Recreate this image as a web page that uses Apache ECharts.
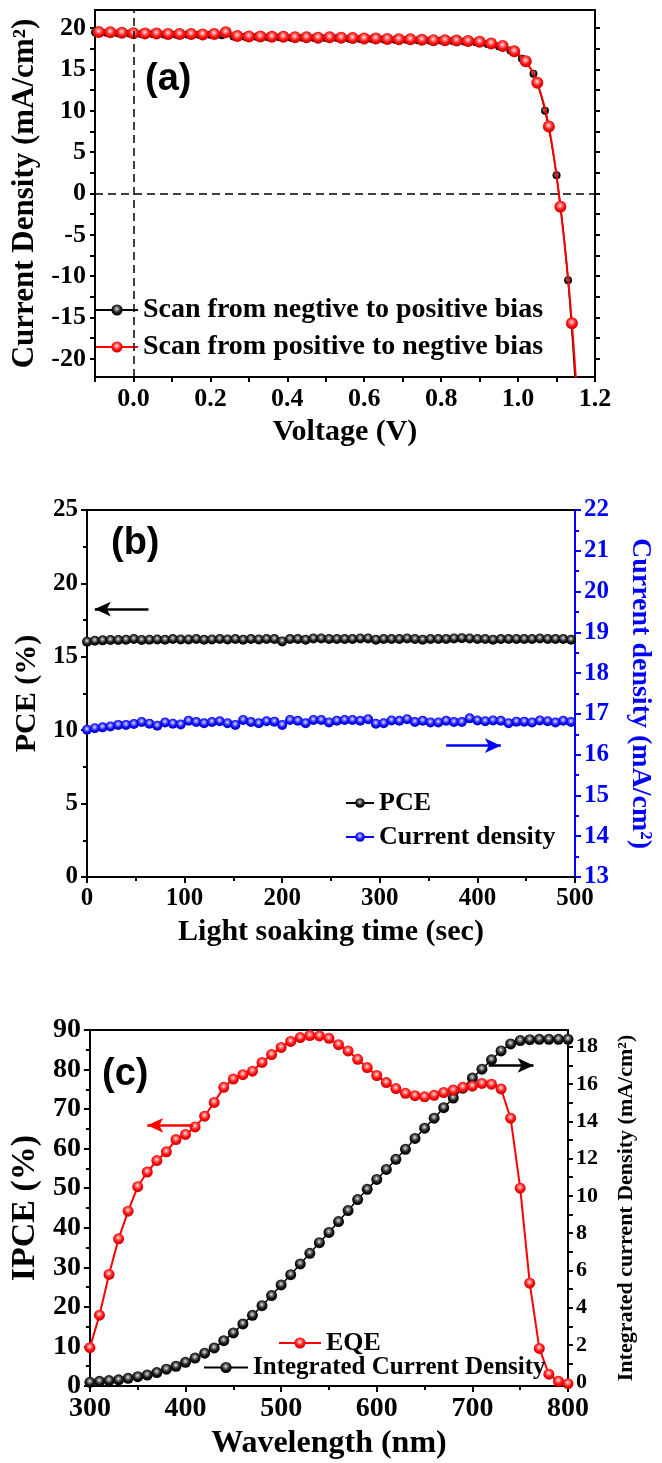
<!DOCTYPE html>
<html>
<head>
<meta charset="utf-8">
<script src="https://cdn.jsdelivr.net/npm/echarts@6/dist/echarts.min.js"></script>
<style>
html, body {margin:0; padding:0; background:#fff;}
#main {width:662px; height:1463px;}
</style>
</head>
<body>
<div id="main"></div>
<script>
// (a) J-V curves
const voltFwd = [-0.10,-0.07,-0.04,-0.01,0.02,0.05,0.08,0.11,0.14,0.17,0.20,0.23,0.26,0.29,0.32,0.35,0.38,0.41,0.44,0.47,0.50,0.53,0.56,0.59,0.62,0.65,0.68,0.71,0.74,0.77,0.80,0.83,0.86,0.89,0.92,0.95,0.98,1.01,1.04,1.07,1.10,1.13,1.16];
const jFwd = [19.5,19.45,19.4,19.35,19.3,19.3,19.25,19.25,19.25,19.2,19.2,19.15,19.0,18.95,18.95,18.9,18.9,18.85,18.85,18.8,18.8,18.8,18.75,18.7,18.7,18.65,18.6,18.6,18.55,18.5,18.5,18.45,18.4,18.3,18.1,17.8,17.3,16.3,14.5,10.0,2.2,-10.5,-32];
const voltRev = [-0.09,-0.06,-0.03,0.00,0.03,0.06,0.09,0.12,0.15,0.18,0.21,0.24,0.27,0.30,0.33,0.36,0.39,0.42,0.45,0.48,0.51,0.54,0.57,0.60,0.63,0.66,0.69,0.72,0.75,0.78,0.81,0.84,0.87,0.90,0.93,0.96,0.99,1.02,1.05,1.08,1.11,1.14,1.17];
const jRev = [19.55,19.5,19.45,19.4,19.35,19.35,19.3,19.3,19.3,19.25,19.3,19.5,19.05,19.0,19.0,18.95,18.95,18.9,18.9,18.85,18.9,18.85,18.8,18.75,18.75,18.7,18.65,18.65,18.6,18.55,18.55,18.5,18.45,18.35,18.15,17.85,17.2,16.0,13.4,8.1,-1.6,-15.7,-38];
const voltLabels = [0, 0.2, 0.4, 0.6, 0.8, 1.0, 1.2];
const voltTicks = [-0.1, 0, 0.1, 0.2, 0.3, 0.4, 0.5, 0.6, 0.7, 0.8, 0.9, 1.0, 1.1, 1.2];
const jLabels = [-20, -15, -10, -5, 0, 5, 10, 15, 20];
const jTicks = [-20, -17.5, -15, -12.5, -10, -7.5, -5, -2.5, 0, 2.5, 5, 7.5, 10, 12.5, 15, 17.5, 20];

// (b) light soaking
const soakTime = [0,8,16,24,32,40,48,56,64,72,80,88,96,104,112,120,128,136,144,152,160,168,176,184,192,200,208,216,224,232,240,248,256,264,272,280,288,296,304,312,320,328,336,344,352,360,368,376,384,392,400,408,416,424,432,440,448,456,464,472,480,488,496];
const pce = [16.02,16.09,16.12,16.14,16.14,16.16,16.21,16.14,16.16,16.18,16.16,16.21,16.18,16.18,16.21,16.16,16.18,16.21,16.18,16.21,16.16,16.21,16.18,16.21,16.21,
  16.05,16.21,16.21,16.16,16.25,16.25,16.21,16.21,16.21,16.21,16.25,16.25,16.16,16.21,16.21,16.21,16.25,16.21,16.16,16.21,16.21,16.21,16.25,16.27,16.25,16.21,16.21,16.16,16.21,16.21,16.21,16.21,16.21,16.25,16.21,16.21,16.21,16.16];
const jsc = [16.61,16.65,16.67,16.69,16.73,16.73,16.75,16.80,16.76,16.71,16.79,16.76,16.74,16.83,16.80,16.77,16.80,16.82,16.77,16.73,16.85,16.80,16.77,16.82,16.81,
  16.73,16.85,16.83,16.77,16.85,16.85,16.79,16.83,16.85,16.85,16.83,16.87,16.76,16.77,16.84,16.83,16.87,16.80,16.83,16.79,16.79,16.83,16.80,16.80,16.89,16.84,16.82,16.84,16.83,16.77,16.81,16.81,16.79,16.84,16.82,16.79,16.83,16.80];

// (c) EQE and integrated current
const wavelength = [300,310,320,330,340,350,360,370,380,390,400,410,420,430,440,450,460,470,480,490,500,510,520,530,540,550,560,570,580,590,600,610,620,630,640,650,660,670,680,690,700,710,720,730,740,750,760,770,780,790,800];
const eqe = [9.7,17.9,28.2,37.2,44.2,50.4,54.1,57.0,59.2,62.3,63.6,65.5,68.2,71.7,75.5,77.6,78.7,79.6,81.8,83.8,85.6,87.1,88.1,88.6,88.5,87.9,86.3,84.7,82.6,80.5,78.5,76.7,75.2,74.0,73.4,73.1,73.5,74.2,74.8,75.5,75.8,76.5,76.3,75.1,67.7,50.0,26.0,9.5,3.0,1.2,0.6];
const jInt = [0.0,0.05,0.09,0.13,0.21,0.30,0.39,0.52,0.70,0.86,1.07,1.30,1.56,1.84,2.23,2.65,3.13,3.59,4.11,4.65,5.22,5.77,6.35,6.92,7.49,8.04,8.62,9.21,9.80,10.35,10.88,11.42,11.96,12.50,13.08,13.63,14.17,14.73,15.25,15.78,16.32,16.80,17.30,17.78,18.15,18.33,18.38,18.40,18.40,18.40,18.40];
const jIntLabels = [0, 2, 4, 6, 8, 10, 12, 14, 16, 18];
const jIntTicks = [0, 1, 2, 3, 4, 5, 6, 7, 8, 9, 10, 11, 12, 13, 14, 15, 16, 17, 18];

const pairs = (xs, ys) => xs.map((x, i) => [x, ys[i]]);

function ball(hi, mid, base, rim) {
    return {
        type: 'radial', x: 0.48, y: 0.4, r: 0.6,
        colorStops: [
            {offset: 0, color: hi},
            {offset: 0.25, color: mid},
            {offset: 0.6, color: base},
            {offset: 1, color: rim}
        ]
    };
}
const redBall = ball('#ffe8e8', '#ff8080', '#ff1010', '#c80000');
const blackBall = ball('#f0f0f0', '#808080', '#151515', '#000000');
const blueBall = ball('#e8e8ff', '#8080ff', '#1010ff', '#0000c0');

const serif = 'Liberation Serif';
const black = '#000';
const blue = '#0000ff';

function lab(size, color) {
    return {fontFamily: serif, fontWeight: 'bold', fontSize: size, color: color || black};
}
function line(color) {
    return {onZero: false, lineStyle: {color: color || black, width: 2}};
}
function frame(gridIndex, min, max, pos) {
    // mirrored axis that only draws the box edge
    return {
        type: 'value', gridIndex: gridIndex, position: pos, min: min, max: max,
        axisLine: {show: true, onZero: false, lineStyle: {color: black, width: 2}},
        axisTick: {show: false}, axisLabel: {show: false}, splitLine: {show: false}
    };
}
function arrow(from, to, color) {
    return {
        silent: true,
        symbol: ['none', 'arrow'],
        symbolSize: [11, 16],
        label: {show: false},
        lineStyle: {color: color, width: 2.5, type: 'solid'},
        data: [[{coord: from}, {coord: to}]]
    };
}

const chart = echarts.init(document.getElementById('main'));

let options = {
    animation: false,
    backgroundColor: '#fff',
    title: [
        {text: '(a)', left: 145, top: 61, padding: 0, textStyle: {fontFamily: 'Liberation Sans', fontWeight: 'bold', fontSize: 38, color: black}},
        {text: '(b)', left: 111, top: 525, padding: 0, textStyle: {fontFamily: 'Liberation Sans', fontWeight: 'bold', fontSize: 38, color: black}},
        {text: '(c)', left: 102, top: 1056, padding: 0, textStyle: {fontFamily: 'Liberation Sans', fontWeight: 'bold', fontSize: 38, color: black}}
    ],
    grid: [
        {left: 95, top: 10, width: 500, height: 367},
        {left: 87, top: 510, width: 498, height: 367},
        {left: 83, top: 1030, width: 485, height: 356}
    ],
    legend: [
        {
            data: ['Scan from negtive to positive bias', 'Scan from positive to negtive bias'],
            left: 95, top: 296, orient: 'vertical', padding: 0,
            itemWidth: 42, itemHeight: 14, itemGap: 9, selectedMode: false,
            textStyle: lab(28)
        },
        {
            data: ['PCE', 'Current density'],
            left: 345, top: 790, orient: 'vertical', padding: 0,
            itemWidth: 28, itemHeight: 12, itemGap: 8, selectedMode: false,
            textStyle: lab(26)
        },
        {
            data: ['EQE'],
            left: 278, top: 1330, padding: 0,
            itemWidth: 42, itemHeight: 14, selectedMode: false,
            textStyle: lab(26)
        },
        {
            data: ['Integrated Current Density'],
            left: 203, top: 1355, padding: 0,
            itemWidth: 44, itemHeight: 14, selectedMode: false,
            textStyle: lab(25)
        }
    ],
    xAxis: [
        {
            type: 'value', gridIndex: 0, min: -0.1, max: 1.2,
            axisLine: line(),
            axisTick: {show: true, customValues: voltTicks, length: 5, lineStyle: {width: 2, color: black}},
            axisLabel: Object.assign(lab(26), {customValues: voltLabels, margin: 9, formatter: v => v.toFixed(1)}),
            splitLine: {show: false},
            name: 'Voltage (V)', nameLocation: 'middle', nameGap: 40, nameTextStyle: lab(30)
        },
        frame(0, -0.1, 1.2, 'top'),
        {
            type: 'value', gridIndex: 1, min: 0, max: 500, interval: 100,
            axisLine: line(),
            axisTick: {show: true, length: 6, lineStyle: {width: 2, color: black}},
            minorTick: {show: true, splitNumber: 2, length: 4, lineStyle: {width: 2, color: black}},
            axisLabel: Object.assign(lab(25), {margin: 9}),
            splitLine: {show: false},
            name: 'Light soaking time (sec)', nameLocation: 'middle', nameGap: 40, nameTextStyle: lab(30)
        },
        frame(1, 0, 500, 'top'),
        {
            type: 'value', gridIndex: 2, min: 300, max: 800, interval: 100,
            axisLine: line(),
            axisTick: {show: true, length: 6, lineStyle: {width: 2, color: black}},
            minorTick: {show: true, splitNumber: 2, length: 4, lineStyle: {width: 2, color: black}},
            axisLabel: Object.assign(lab(28), {margin: 9}),
            splitLine: {show: false},
            name: 'Wavelength (nm)', nameLocation: 'middle', nameGap: 42, nameTextStyle: lab(32)
        },
        frame(2, 300, 800, 'top')
    ],
    yAxis: [
        {
            type: 'value', gridIndex: 0, min: -22.2, max: 22.2,
            axisLine: line(),
            axisTick: {show: true, customValues: jTicks, length: 5, lineStyle: {width: 2, color: black}},
            axisLabel: Object.assign(lab(26), {customValues: jLabels, margin: 9}),
            splitLine: {show: false},
            name: 'Current Density (mA/cm²)', nameLocation: 'middle', nameRotate: 90, nameGap: 49, nameTextStyle: lab(31)
        },
        {
            type: 'value', gridIndex: 0, position: 'right', min: -22.2, max: 22.2,
            axisLine: line(),
            axisTick: {show: true, customValues: jTicks, length: 5, lineStyle: {width: 2, color: black}},
            axisLabel: {show: false},
            splitLine: {show: false}
        },
        {
            type: 'value', gridIndex: 1, min: 0, max: 25, interval: 5,
            axisLine: line(),
            axisTick: {show: true, length: 6, lineStyle: {width: 2, color: black}},
            minorTick: {show: true, splitNumber: 2, length: 4, lineStyle: {width: 2, color: black}},
            axisLabel: Object.assign(lab(25), {margin: 9}),
            splitLine: {show: false},
            name: 'PCE (%)', nameLocation: 'middle', nameRotate: 90, nameGap: 45, nameTextStyle: lab(30)
        },
        {
            type: 'value', gridIndex: 1, position: 'right', min: 13, max: 22, interval: 1,
            axisLine: line(blue),
            axisTick: {show: true, length: 6, lineStyle: {width: 2, color: blue}},
            minorTick: {show: true, splitNumber: 2, length: 4, lineStyle: {width: 2, color: blue}},
            axisLabel: Object.assign(lab(25, blue), {margin: 9}),
            splitLine: {show: false},
            name: 'Current density (mA/cm²)', nameLocation: 'middle', nameRotate: -90, nameGap: 51, nameTextStyle: lab(28, blue)
        },
        {
            type: 'value', gridIndex: 2, min: 0, max: 90, interval: 10,
            axisLine: line(),
            axisTick: {show: true, length: 6, lineStyle: {width: 2, color: black}},
            minorTick: {show: true, splitNumber: 2, length: 4, lineStyle: {width: 2, color: black}},
            axisLabel: Object.assign(lab(28), {margin: 9}),
            splitLine: {show: false},
            name: 'IPCE (%)', nameLocation: 'middle', nameRotate: 90, nameGap: 43, nameTextStyle: lab(34)
        },
        {
            type: 'value', gridIndex: 2, position: 'right', min: -0.2, max: 18.9,
            axisLine: line(),
            axisTick: {show: true, customValues: jIntTicks, length: 5, lineStyle: {width: 2, color: black}},
            axisLabel: Object.assign(lab(22), {customValues: jIntLabels, margin: 8}),
            splitLine: {show: false},
            name: 'Integrated current Density (mA/cm²)', nameLocation: 'middle', nameRotate: 90, nameGap: 47, nameTextStyle: lab(22)
        }
    ],
    series: [
        {
            name: 'Scan from negtive to positive bias', type: 'line',
            xAxisIndex: 0, yAxisIndex: 0, data: pairs(voltFwd, jFwd),
            smooth: 0.4, symbol: 'circle', symbolSize: 8,
            lineStyle: {color: black, width: 1.5}, itemStyle: {color: blackBall}, z: 2
        },
        {
            name: 'Scan from positive to negtive bias', type: 'line',
            xAxisIndex: 0, yAxisIndex: 0, data: pairs(voltRev, jRev),
            smooth: 0.4, symbol: 'circle', symbolSize: 12,
            lineStyle: {color: '#ff0000', width: 2}, itemStyle: {color: redBall}, z: 3,
            markLine: {
                silent: true, symbol: 'none', label: {show: false},
                lineStyle: {color: black, width: 1.5, type: [8, 5]},
                data: [{xAxis: 0}, {yAxis: 0}]
            }
        },
        {
            name: 'PCE', type: 'line',
            xAxisIndex: 2, yAxisIndex: 2, data: pairs(soakTime, pce),
            symbol: 'circle', symbolSize: 10,
            lineStyle: {color: black, width: 1}, itemStyle: {color: blackBall},
            markLine: arrow([63, 18.25], [8, 18.25], black)
        },
        {
            name: 'Current density', type: 'line',
            xAxisIndex: 2, yAxisIndex: 3, data: pairs(soakTime, jsc),
            symbol: 'circle', symbolSize: 10,
            lineStyle: {color: blue, width: 1}, itemStyle: {color: blueBall},
            markLine: arrow([368, 16.22], [424, 16.22], blue)
        },
        {
            name: 'Integrated Current Density', type: 'line',
            xAxisIndex: 4, yAxisIndex: 5, data: pairs(wavelength, jInt),
            symbol: 'circle', symbolSize: 11,
            lineStyle: {color: black, width: 1.5}, itemStyle: {color: blackBall},
            markLine: arrow([717, 17.0], [764, 17.0], black)
        },
        {
            name: 'EQE', type: 'line',
            xAxisIndex: 4, yAxisIndex: 4, data: pairs(wavelength, eqe),
            symbol: 'circle', symbolSize: 11,
            lineStyle: {color: '#ff0000', width: 2}, itemStyle: {color: redBall},
            markLine: arrow([408, 65.9], [360, 65.9], '#ff0000')
        }
    ]
};
chart.setOption(options);
</script>
</body>
</html>
